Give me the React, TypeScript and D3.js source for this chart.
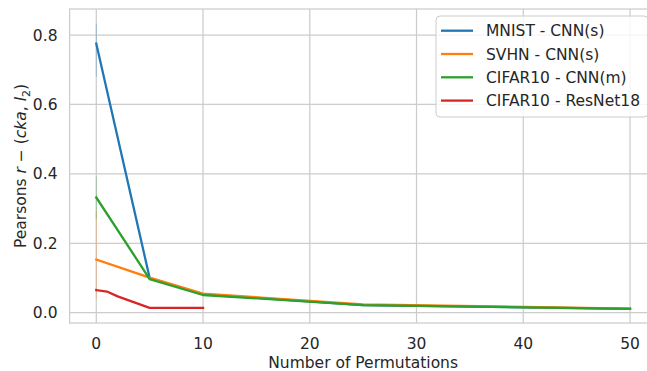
import React from "react";
import * as d3 from "d3";

const seriesNames = ["MNIST - CNN(s)", "SVHN - CNN(s)", "CIFAR10 - CNN(m)", "CIFAR10 - ResNet18"];
const colors = ["#1f77b4", "#ff7f0e", "#2ca02c", "#d62728"];

const xMain = [0, 5, 10, 25, 50];
const mnist = [0.775, 0.1, 0.053, 0.022, 0.011];
const svhn = [0.153, 0.101, 0.055, 0.024, 0.012];
const cifarCnn = [0.332, 0.097, 0.051, 0.022, 0.011];
const xResnet = [0, 1, 2, 5, 10];
const resnet = [0.065, 0.061, 0.047, 0.014, 0.014];

// confidence interval at x = 0 (shows up as thin vertical strokes)
const ciLow = [0.68, 0.04, 0.27, 0.06];
const ciHigh = [0.833, 0.29, 0.392, 0.07];

const xTicks = [0, 10, 20, 30, 40, 50];
const yTicks = [0.0, 0.2, 0.4, 0.6, 0.8];

const W = 647;
const H = 371;
const left = 69.6;
const right = 656.7;
const top = 9;
const bottom = 323;
const font = "DejaVu Sans, sans-serif";
const ink = "#262626";

export default function App() {
  const x = d3.scaleLinear().domain([-2.5, 52.5]).range([left, right]);
  const y = d3.scaleLinear().domain([-0.0297, 0.875]).range([bottom, top]);

  const series = [
    { xs: xMain, ys: mnist },
    { xs: xMain, ys: svhn },
    { xs: xMain, ys: cifarCnn },
    { xs: xResnet, ys: resnet },
  ];

  const line = d3
    .line<[number, number]>()
    .x((d) => x(d[0]))
    .y((d) => y(d[1]));

  return (
    <svg width={W} height={H} style={{ position: "absolute", left: 0, top: 0 }}>
      <rect x={0} y={0} width={W} height={H} fill="#fff" />
      <defs>
        <clipPath id="plot">
          <rect x={left} y={top} width={right - left} height={bottom - top} />
        </clipPath>
      </defs>
      {xTicks.map((t) => (
        <line key={"gx" + t} x1={x(t)} x2={x(t)} y1={top} y2={bottom} stroke="#cccccc" strokeWidth={1.25} />
      ))}
      {yTicks.map((t) => (
        <line key={"gy" + t} x1={left} x2={right} y1={y(t)} y2={y(t)} stroke="#cccccc" strokeWidth={1.25} />
      ))}
      <rect x={left} y={top} width={right - left} height={bottom - top} fill="none" stroke="#cccccc" strokeWidth={1.25} />

      <g clipPath="url(#plot)">
        {ciLow.map((lo, i) => (
          <line
            key={"ci" + i}
            x1={x(0)}
            x2={x(0)}
            y1={y(lo)}
            y2={y(ciHigh[i])}
            stroke={colors[i]}
            strokeOpacity={0.3}
            strokeWidth={1}
          />
        ))}
        {series.map((s, i) => (
          <path
            key={"s" + i}
            d={line(s.xs.map((v, j) => [v, s.ys[j]] as [number, number])) || ""}
            fill="none"
            stroke={colors[i]}
            strokeWidth={2.3}
            strokeLinejoin="round"
            strokeLinecap="square"
          />
        ))}
      </g>

      {xTicks.map((t) => (
        <text key={"tx" + t} x={x(t)} y={348.5} textAnchor="middle" fontFamily={font} fontSize={15.5} fill={ink}>
          {t}
        </text>
      ))}
      {yTicks.map((t) => (
        <text key={"ty" + t} x={57.5} y={y(t) + 5.6} textAnchor="end" fontFamily={font} fontSize={15.5} fill={ink}>
          {t.toFixed(1)}
        </text>
      ))}

      <text x={(left + right) / 2} y={368} textAnchor="middle" fontFamily={font} fontSize={15.5} fill={ink}>
        Number of Permutations
      </text>
      <text
        transform={`translate(25.5, ${(top + bottom) / 2}) rotate(-90)`}
        textAnchor="middle"
        fontFamily={font}
        fontSize={15.5}
        fill={ink}
      >
        Pearsons <tspan fontStyle="italic">r</tspan> − (<tspan fontStyle="italic">cka</tspan>,{" "}
        <tspan fontStyle="italic">l</tspan>
        <tspan fontSize={11} dy={4}>2</tspan>
        <tspan dy={-4}>)</tspan>
      </text>

      <g>
        <rect x={436} y={16} width={212} height={101} rx={4} fill="#fff" fillOpacity={0.8} stroke="#cccccc" strokeWidth={1} />
        {seriesNames.map((name, i) => (
          <g key={"lg" + i} transform={`translate(0, ${30.7 + i * 23.3})`}>
            <line x1={441} x2={473} y1={0} y2={0} stroke={colors[i]} strokeWidth={2.3} />
            <text x={486} y={5.7} fontFamily={font} fontSize={15.5} fill={ink}>
              {name}
            </text>
          </g>
        ))}
      </g>
    </svg>
  );
}
